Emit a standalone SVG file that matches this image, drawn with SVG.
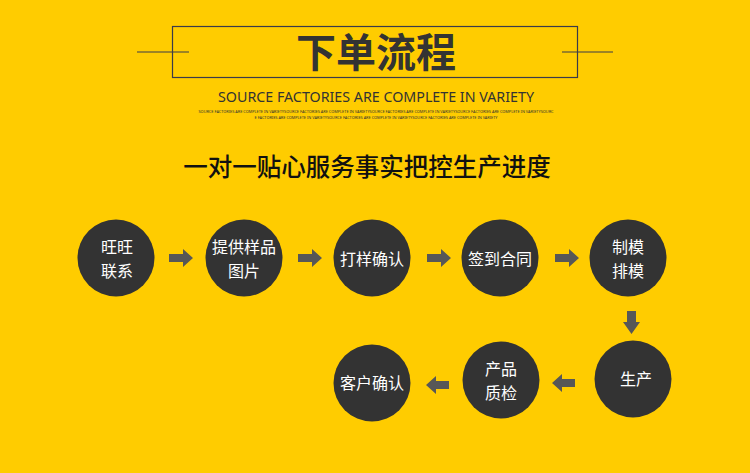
<svg xmlns="http://www.w3.org/2000/svg" width="750" height="473" viewBox="0 0 750 473">
<style>
.node circle{fill:#333333}
.lbl{font-family:"Noto Sans CJK SC","Noto Sans",sans-serif;font-size:16px;fill:#ffffff;text-anchor:middle}
.arr{fill:#575757}
.rule{stroke:#3a3a4a;stroke-width:1.2;fill:none}
</style>
<rect width="750" height="473" fill="#FFCC00"/>
<g id="title">
<rect class="rule" x="172.5" y="26.5" width="405" height="51"/>
<line class="rule" x1="137" y1="52" x2="189" y2="52"/>
<line class="rule" x1="562" y1="52" x2="613" y2="52"/>
<text x="376" y="67" font-family="'Noto Sans CJK SC',sans-serif" font-size="40" font-weight="bold" fill="#333333" text-anchor="middle">下单流程</text>
<text x="376" y="102" font-family="'Noto Sans',sans-serif" font-size="15" fill="#333333" text-anchor="middle" textLength="316" lengthAdjust="spacingAndGlyphs">SOURCE FACTORIES ARE COMPLETE IN VARIETY</text>
<text x="376" y="113" font-family="'Noto Sans',sans-serif" font-size="4" fill="#333333" text-anchor="middle" textLength="355" lengthAdjust="spacingAndGlyphs">SOURCE FACTORIES ARE COMPLETE IN VARIETYSOURCE FACTORIES ARE COMPLETE IN VARIETYSOURCE FACTORIES ARE COMPLETE IN VARIETYSOURCE FACTORIES ARE COMPLETE IN VARIETYSOURC</text>
<text x="376" y="119" font-family="'Noto Sans',sans-serif" font-size="4" fill="#333333" text-anchor="middle" textLength="243" lengthAdjust="spacingAndGlyphs">E FACTORIES ARE COMPLETE IN VARIETYSOURCE FACTORIES ARE COMPLETE IN VARIETYSOURCE FACTORIES ARE COMPLETE IN VARIETY</text>
<text x="367" y="176" font-family="'Noto Sans CJK SC',sans-serif" font-size="24.5" font-weight="500" fill="#111111" text-anchor="middle">一对一贴心服务事实把控生产进度</text>
</g>
<g id="connectors">
<polygon class="arr" points="169,254 183,254 183,249 193,258 183,267 183,262 169,262"/>
<polygon class="arr" points="298,254 312,254 312,249 322,258 312,267 312,262 298,262"/>
<polygon class="arr" points="427,254 441,254 441,249 451,258 441,267 441,262 427,262"/>
<polygon class="arr" points="555,254 569,254 569,249 579,258 569,267 569,262 555,262"/>
<polygon class="arr" points="627,311 636,311 636,322 640,322 631.5,334 623,322 627,322"/>
<polygon class="arr" points="575,379 562,379 562,374 552,383 562,392 562,387 575,387"/>
<polygon class="arr" points="449,381 436,381 436,376 426,385 436,394 436,389 449,389"/>
</g>
<g id="n1" class="node"><circle cx="116" cy="258" r="38.5"/><text class="lbl" x="117" y="253">旺旺</text><text class="lbl" x="117" y="277">联系</text></g>
<g id="n2" class="node"><circle cx="244" cy="258" r="38.5"/><text class="lbl" x="244" y="253">提供样品</text><text class="lbl" x="244" y="277">图片</text></g>
<g id="n3" class="node"><circle cx="372" cy="258" r="38.5"/><text class="lbl" x="372" y="265">打样确认</text></g>
<g id="n4" class="node"><circle cx="500" cy="258" r="38.5"/><text class="lbl" x="500" y="265">签到合同</text></g>
<g id="n5" class="node"><circle cx="628" cy="258" r="38.5"/><text class="lbl" x="628" y="253">制模</text><text class="lbl" x="628" y="277">排模</text></g>
<g id="n6" class="node"><circle cx="633" cy="379" r="38.5"/><text class="lbl" x="636" y="385">生产</text></g>
<g id="n7" class="node"><circle cx="501" cy="380" r="38.5"/><text class="lbl" x="501" y="375">产品</text><text class="lbl" x="501" y="399">质检</text></g>
<g id="n8" class="node"><circle cx="372" cy="383" r="38.5"/><text class="lbl" x="372" y="389">客户确认</text></g>
</svg>
